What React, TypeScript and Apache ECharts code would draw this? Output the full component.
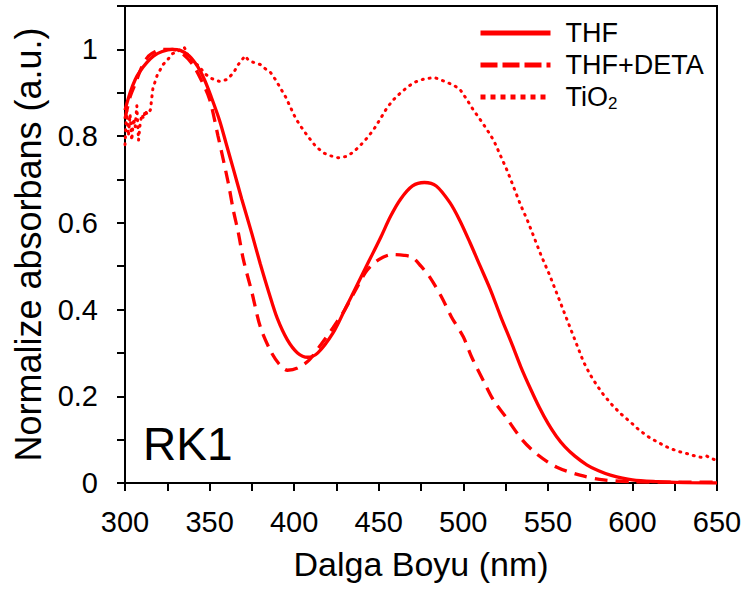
import React, { useEffect, useRef } from "react";
import * as echarts from "echarts";

const thfX = [300, 303, 306, 309, 313, 317, 322, 328, 333, 338, 343, 347, 351, 356, 360, 364, 369, 375, 380, 385, 390, 396, 402, 408, 414, 423, 430, 437, 444, 451, 457, 463, 470, 477, 484, 492, 498, 504, 510, 516, 522, 529, 534, 540, 545, 550, 555, 560, 566, 573, 580, 587, 600, 615, 630, 650];
const thfY = [0.86, 0.9, 0.93, 0.95, 0.97, 0.985, 0.995, 1.0, 0.997, 0.985, 0.96, 0.93, 0.89, 0.835, 0.78, 0.725, 0.655, 0.575, 0.505, 0.44, 0.38, 0.33, 0.3, 0.29, 0.3, 0.346, 0.4, 0.455, 0.51, 0.565, 0.615, 0.655, 0.685, 0.693, 0.685, 0.647, 0.605, 0.554, 0.5, 0.446, 0.385, 0.318, 0.268, 0.215, 0.174, 0.138, 0.108, 0.084, 0.062, 0.042, 0.028, 0.018, 0.007, 0.003, 0.001, 0.0];

const detaX = [300, 303, 306, 310, 314, 318, 322, 328, 334, 340, 345, 350, 355, 361, 364, 367, 370, 375, 380, 386, 391, 396, 402, 409, 416, 423, 430, 437, 443, 450, 458, 465, 470, 475, 480, 487, 493, 500, 505, 512, 518, 525, 535, 544, 555, 569, 583, 600, 625, 650];
const detaY = [0.84, 0.89, 0.92, 0.96, 0.985, 0.995, 1.0, 1.0, 0.99, 0.965, 0.93, 0.885, 0.8, 0.693, 0.63, 0.577, 0.515, 0.44, 0.36, 0.305, 0.275, 0.26, 0.265, 0.284, 0.32, 0.358, 0.4, 0.45, 0.49, 0.515, 0.527, 0.525, 0.52, 0.5, 0.476, 0.43, 0.383, 0.337, 0.29, 0.235, 0.19, 0.153, 0.099, 0.065, 0.037, 0.018, 0.007, 0.003, 0.002, 0.002];

const tioX = [300, 301, 302, 303, 304, 305, 306, 307, 308, 309, 310, 311, 312, 313, 315, 316.5, 319, 322.5, 325, 328, 331, 335, 338, 341, 344, 347, 350, 353, 356, 360, 364, 367, 369, 371, 373, 376, 380, 383, 386, 389, 392, 395, 398, 401, 404, 408, 413, 418, 421, 426, 431, 435, 439, 443, 447, 451, 455, 459, 463, 467, 471, 477, 483, 489, 494, 498, 502, 506, 510, 514, 518, 522, 526, 530, 534, 538, 541, 546, 551, 555, 559, 563, 567, 571, 575, 579, 583, 588, 593, 599, 604, 610, 616, 622, 628, 634, 638, 641, 644, 647, 650];
const tioY = [0.78, 0.86, 0.8, 0.85, 0.79, 0.84, 0.82, 0.87, 0.79, 0.83, 0.85, 0.84, 0.86, 0.85, 0.86, 0.91, 0.94, 0.965, 0.975, 0.99, 0.995, 1.005, 0.98, 0.97, 0.96, 0.945, 0.935, 0.93, 0.926, 0.93, 0.945, 0.965, 0.975, 0.985, 0.975, 0.97, 0.965, 0.955, 0.947, 0.93, 0.91, 0.89, 0.865, 0.84, 0.822, 0.8, 0.775, 0.76, 0.755, 0.75, 0.753, 0.763, 0.778, 0.795, 0.815, 0.84, 0.866, 0.885, 0.9, 0.913, 0.924, 0.932, 0.935, 0.926, 0.918, 0.908, 0.885, 0.86, 0.838, 0.815, 0.79, 0.755, 0.72, 0.68, 0.64, 0.605, 0.575, 0.525, 0.48, 0.44, 0.4, 0.36, 0.32, 0.28, 0.25, 0.225, 0.203, 0.18, 0.16, 0.14, 0.122, 0.105, 0.092, 0.08, 0.072, 0.066, 0.061, 0.059, 0.062, 0.056, 0.052];

const seriesNames = ["THF", "THF+DETA", "TiO2"];
const xTitle = "Dalga Boyu (nm)";
const yTitle = "Normalize absorbans (a.u.)";
const panelLabel = "RK1";

const pairs = (xs: number[], ys: number[]) => xs.map((x, i) => [x, ys[i]]);

const FONT = "'Liberation Sans', Arial, sans-serif";
const RED = "#ff0000";

export default function App() {
  const ref = useRef<HTMLDivElement>(null);
  useEffect(() => {
    document.body.style.margin = "0";
    if (!ref.current) return;
    const chart = echarts.init(ref.current, null, { renderer: "svg" });
    const axisCommon = {
      axisLine: { show: true, lineStyle: { color: "#000", width: 2 } },
      axisTick: { show: true, inside: false, length: 8, lineStyle: { color: "#000", width: 2 } },
      splitLine: { show: false },
    };
    chart.setOption({
      animation: false,
      backgroundColor: "#fff",
      textStyle: { fontFamily: FONT },
      grid: {
        left: 125,
        right: 30,
        top: 6,
        bottom: 106,
        show: true,
        borderColor: "#000",
        borderWidth: 2,
      },
      legend: {
        orient: "vertical",
        left: 478,
        top: 18,
        padding: 0,
        itemWidth: 70,
        itemHeight: 14,
        itemGap: 2,
        data: [
          { name: seriesNames[0], lineStyle: { width: 5 } },
          { name: seriesNames[1], lineStyle: { width: 5, type: [17, 5] } },
          { name: seriesNames[2], lineStyle: { width: 5, type: [5, 5], cap: "butt" } },
        ],
        itemStyle: { opacity: 0 },
        textStyle: {
          fontFamily: FONT,
          fontSize: 27,
          lineHeight: 30,
          color: "#000",
          padding: [0, 0, 0, 10],
          rich: {
            b: { fontFamily: FONT, fontSize: 27, lineHeight: 30, color: "#000" },
            sub: { fontFamily: FONT, fontSize: 17, lineHeight: 30, color: "#000", padding: [12, 0, 0, 0] },
          },
        },
        formatter: (name: string) => (name === "TiO2" ? "{b|TiO}{sub|2}" : name),
      },
      xAxis: {
        type: "value",
        min: 300,
        max: 650,
        interval: 50,
        ...axisCommon,
        minorTick: { show: true, splitNumber: 2, length: 8, lineStyle: { color: "#000", width: 2 } },
        axisLabel: { color: "#000", fontSize: 29, fontFamily: FONT, margin: 24 },
        name: xTitle,
        nameLocation: "middle",
        nameGap: 64,
        nameTextStyle: { color: "#000", fontSize: 34, fontFamily: FONT },
      },
      yAxis: {
        type: "value",
        min: 0,
        max: 1.1,
        interval: 0.1,
        ...axisCommon,
        axisLabel: {
          color: "#000",
          fontSize: 29,
          fontFamily: FONT,
          margin: 27,
          showMaxLabel: true,
          formatter: (v: number) => {
            const k = Math.round(v * 10);
            return k % 2 === 0 && k <= 10 ? String(k / 10) : "";
          },
        },
        name: yTitle,
        nameLocation: "middle",
        nameGap: 79,
        nameRotate: 90,
        nameTextStyle: { color: "#000", fontSize: 36, fontFamily: FONT },
      },
      graphic: [
        {
          type: "text",
          left: 143,
          top: 421,
          style: { text: panelLabel, fontSize: 46, fontFamily: FONT, fill: "#000" },
        },
      ],
      series: [
        {
          name: "THF",
          type: "line",
          data: pairs(thfX, thfY),
          symbol: "none",
          smooth: 0.3,
          lineStyle: { color: RED, width: 3.3 },
          itemStyle: { color: RED },
        },
        {
          name: "THF+DETA",
          type: "line",
          data: pairs(detaX, detaY),
          symbol: "none",
          smooth: 0.3,
          lineStyle: { color: RED, width: 3.3, type: [13, 8] },
          itemStyle: { color: RED },
        },
        {
          name: "TiO2",
          type: "line",
          data: pairs(tioX, tioY),
          symbol: "none",
          lineStyle: { color: RED, width: 3, type: [1, 6], cap: "round" },
          itemStyle: { color: RED },
        },
      ],
    });
    return () => chart.dispose();
  }, []);
  return <div ref={ref} style={{ width: 747, height: 589 }} />;
}
